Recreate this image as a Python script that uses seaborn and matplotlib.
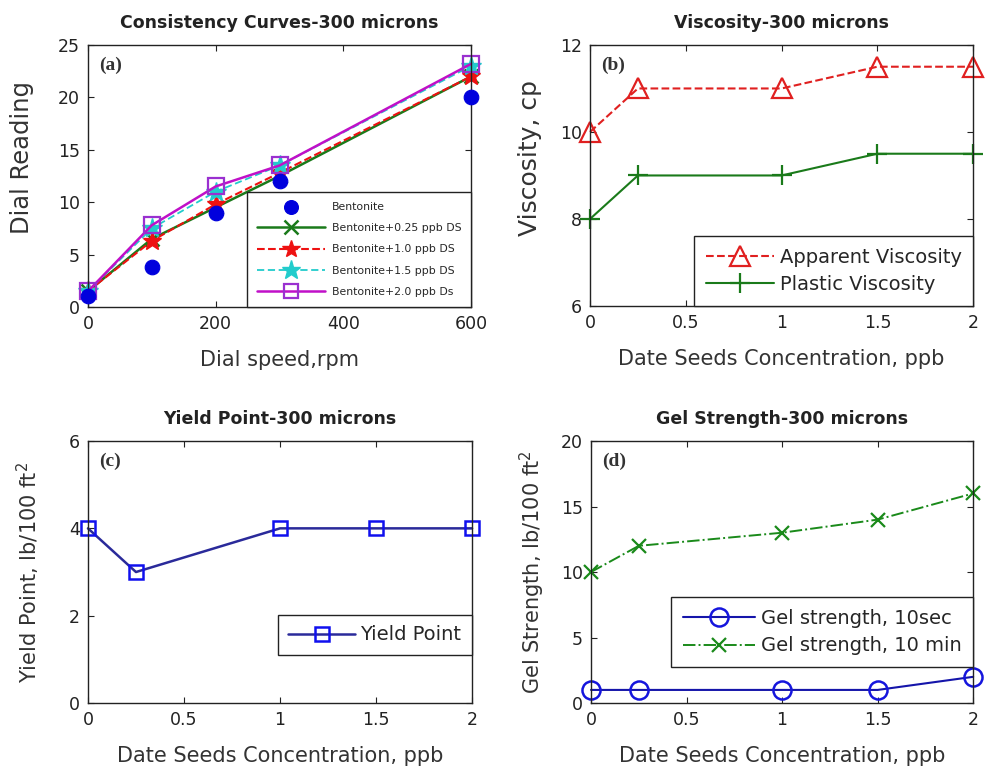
import matplotlib
matplotlib.use("Agg")
import matplotlib.pyplot as plt
import seaborn as sns
import numpy as np

sns.set_style("ticks")
plt.rcParams["font.family"] = ["DejaVu Sans"]

# Consistency curves (dial reading vs dial speed)
speed_rpm = [0, 100, 200, 300, 600]
bentonite = [1.0, 3.8, 9.0, 12.0, 20.0]
ds_025 = [1.5, 6.5, 9.5, 12.5, 22.0]
ds_10 = [1.5, 6.3, 9.8, 12.8, 22.0]
ds_15 = [1.5, 7.5, 11.0, 13.5, 23.0]
ds_20 = [1.5, 7.8, 11.5, 13.5, 23.2]

# Concentration-dependent properties
conc_ppb = [0, 0.25, 1, 1.5, 2]
apparent_visc = [10, 11, 11, 11.5, 11.5]
plastic_visc = [8, 9, 9, 9.5, 9.5]
yield_point = [4, 3, 4, 4, 4]
gel_10sec = [1, 1, 1, 1, 2]
gel_10min = [10, 12, 13, 14, 16]

fig = plt.figure(figsize=(9.85, 7.74), dpi=100)

ax_a = fig.add_axes([0.0893, 0.6034, 0.389, 0.3385])
ax_b = fig.add_axes([0.599, 0.6047, 0.389, 0.3372])
ax_c = fig.add_axes([0.0893, 0.0917, 0.390, 0.3385])
ax_d = fig.add_axes([0.600, 0.0917, 0.388, 0.3385])

TICK_FS = 12.5
LABEL_FS = 15
TITLE_FS = 12.5
LEG_FS = 14


def style_axes(ax, title, xlabel, ylabel, tag, ylabel_fs=LABEL_FS,
               ylabelpad=14, ylabel_y=0.5):
    ax.set_title(title, fontsize=TITLE_FS, fontweight="bold", pad=12,
                 color="#222222")
    ax.set_xlabel(xlabel, fontsize=LABEL_FS, color="#333333", labelpad=12)
    ax.set_ylabel(ylabel, fontsize=ylabel_fs, color="#333333",
                  labelpad=ylabelpad)
    ax.yaxis.label.set_y(ylabel_y)
    ax.tick_params(direction="in", top=True, right=True, labelsize=TICK_FS,
                   length=4, width=0.8, colors="#222222", pad=6)
    for sp in ax.spines.values():
        sp.set_linewidth(1.0)
        sp.set_color("#222222")
    ax.text(0.03, 0.955, tag, transform=ax.transAxes, fontsize=14,
            fontweight="bold", family=["Liberation Serif", "DejaVu Serif"],
            va="top", ha="left", color="#333333")


def boxed_legend(ax, **kw):
    leg = ax.legend(fancybox=False, edgecolor="#222222", framealpha=1,
                    borderaxespad=0, **kw)
    leg.get_frame().set_linewidth(1.0)
    return leg


# (a) consistency curves
sns.scatterplot(x=speed_rpm, y=bentonite, ax=ax_a, color="#0000dd", s=110,
                edgecolor="#0000dd", label="Bentonite", zorder=5, clip_on=False)
sns.lineplot(x=speed_rpm, y=ds_025, ax=ax_a, color="#1a7a1a", marker="x",
             markersize=10, mew=1.8, mec="#1a7a1a", linestyle="-", lw=1.8,
             label="Bentonite+0.25 ppb DS", clip_on=False)
sns.lineplot(x=speed_rpm, y=ds_10, ax=ax_a, color="#ee1111", marker="*",
             markersize=14, mec="#ee1111", mew=1.0, linestyle="--", lw=1.5,
             label="Bentonite+1.0 ppb DS", clip_on=False)
sns.lineplot(x=speed_rpm, y=ds_15, ax=ax_a, color="#22cccc", marker="*",
             markersize=15, mec="#22cccc", mew=1.0, linestyle=(0, (4, 2)),
             lw=1.3, label="Bentonite+1.5 ppb DS", clip_on=False)
sns.lineplot(x=speed_rpm, y=ds_20, ax=ax_a, color="#c010c8", marker="s",
             markersize=11, mfc="none", mec="#9a30d0", mew=1.6, linestyle="-",
             lw=1.8, label="Bentonite+2.0 ppb Ds", clip_on=False)
ax_a.set_xlim(0, 600)
ax_a.set_ylim(0, 25)
ax_a.set_xticks([0, 200, 400, 600])
ax_a.set_yticks([0, 5, 10, 15, 20, 25])
style_axes(ax_a, "Consistency Curves-300 microns", "Dial speed,rpm",
           "Dial Reading", "(a)", ylabel_fs=17.5, ylabelpad=17, ylabel_y=0.57)
boxed_legend(ax_a, loc="lower right", fontsize=7.8, handlelength=6.3,
             labelspacing=1.05, borderpad=0.9, handletextpad=0.6,
             markerscale=0.95)

# (b) viscosity
sns.lineplot(x=conc_ppb, y=apparent_visc, ax=ax_b, color="#e02020",
             marker="^", markersize=15, mfc="none", mec="#e02020", mew=1.6,
             linestyle="--", lw=1.5, label="Apparent Viscosity", clip_on=False)
sns.lineplot(x=conc_ppb, y=plastic_visc, ax=ax_b, color="#1a7a1a",
             marker="+", markersize=15, mec="#1a7a1a", mew=1.6, linestyle="-",
             lw=1.5, label="Plastic Viscosity", clip_on=False)
ax_b.set_xlim(0, 2)
ax_b.set_ylim(6, 12)
ax_b.set_xticks([0, 0.5, 1, 1.5, 2])
ax_b.set_xticklabels(["0", "0.5", "1", "1.5", "2"])
ax_b.set_yticks([6, 8, 10, 12])
style_axes(ax_b, "Viscosity-300 microns", "Date Seeds Concentration, ppb",
           "Viscosity, cp", "(b)", ylabel_fs=18, ylabelpad=13, ylabel_y=0.567)
boxed_legend(ax_b, loc="lower right", fontsize=LEG_FS, handlelength=3.5,
             handletextpad=0.3, labelspacing=0.45, borderpad=0.6)

# (c) yield point
sns.lineplot(x=conc_ppb, y=yield_point, ax=ax_c, color="#2a2a9a",
             marker="s", markersize=10, mfc="none", mec="#1010ee", mew=1.8,
             linestyle="-", lw=1.8, label="Yield Point", clip_on=False)
ax_c.set_xlim(0, 2)
ax_c.set_ylim(0, 6)
ax_c.set_xticks([0, 0.5, 1, 1.5, 2])
ax_c.set_xticklabels(["0", "0.5", "1", "1.5", "2"])
ax_c.set_yticks([0, 2, 4, 6])
style_axes(ax_c, "Yield Point-300 microns", "Date Seeds Concentration, ppb",
           "Yield Point, lb/100 ft$^2$", "(c)", ylabelpad=19)
boxed_legend(ax_c, loc="center right", bbox_to_anchor=(1.0, 0.26),
             fontsize=LEG_FS, handlelength=3.4, handletextpad=0.3,
             borderpad=0.55)

# (d) gel strength
sns.lineplot(x=conc_ppb, y=gel_10sec, ax=ax_d, color="#1515aa", marker="o",
             markersize=13, mfc="none", mec="#1515dd", mew=1.8, linestyle="-",
             lw=1.5, label="Gel strength, 10sec", clip_on=False)
sns.lineplot(x=conc_ppb, y=gel_10min, ax=ax_d, color="#1a8a1a", marker="x",
             markersize=10, mec="#1a8a1a", mew=1.6, linestyle="-.", lw=1.4,
             label="Gel strength, 10 min", clip_on=False)
ax_d.set_xlim(0, 2)
ax_d.set_ylim(0, 20)
ax_d.set_xticks([0, 0.5, 1, 1.5, 2])
ax_d.set_xticklabels(["0", "0.5", "1", "1.5", "2"])
ax_d.set_yticks([0, 5, 10, 15, 20])
style_axes(ax_d, "Gel Strength-300 microns", "Date Seeds Concentration, ppb",
           "Gel Strength, lb/100 ft$^2$", "(d)", ylabelpad=10)
boxed_legend(ax_d, loc="lower right", bbox_to_anchor=(1.0, 0.137),
             fontsize=LEG_FS, handlelength=3.7, handletextpad=0.3,
             labelspacing=0.45, borderpad=0.6)

fig.savefig("out.png", dpi=100)
